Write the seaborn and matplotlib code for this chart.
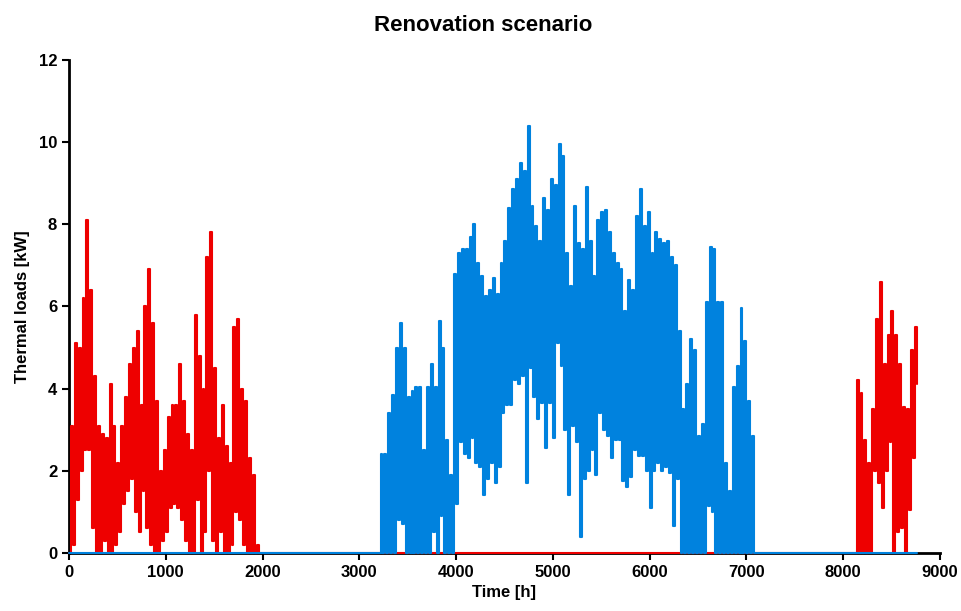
import numpy as np
import pandas as pd
import matplotlib.pyplot as plt
import seaborn as sns

# loads in 40 h blocks: low value at block start, peak at mid-block
step = 40

# heating, start of year (from hour 0)
heat1_start = 0
heat1_peak = [3.1, 5.1, 5.0, 6.2, 8.1, 6.4, 4.3, 3.1, 2.9, 2.8,
              4.1, 3.1, 2.2, 3.1, 3.8, 4.6, 5.0, 5.4, 3.6, 6.0,
              6.9, 5.6, 3.7, 2.0, 2.5, 3.3, 3.6, 3.6, 4.6, 3.7,
              2.9, 2.5, 5.8, 4.8, 4.0, 7.2, 7.8, 4.5, 2.8, 3.6,
              2.6, 2.2, 5.5, 5.7, 4.0, 3.7, 2.3, 1.9, 0.2]
heat1_low = [0.0, 0.2, 1.3, 2.0, 2.5, 2.5, 0.6, 0.0, 0.0, 0.3,
             0.0, 0.0, 0.2, 0.5, 1.2, 1.5, 1.8, 1.0, 0.5, 1.5,
             0.6, 0.2, 0.0, 0.0, 0.3, 0.5, 1.1, 1.2, 1.1, 0.8,
             0.3, 0.0, 0.0, 1.3, 0.0, 0.5, 2.0, 0.3, 0.0, 0.5,
             0.0, 0.0, 0.2, 1.0, 0.8, 0.2, 0.0, 0.0, 0.0]

# cooling, summer (from hour 3200)
cool_start = 3200
cool_peak = [2.4, 2.4, 3.4, 3.85, 5.0, 5.6, 5.0, 3.8, 3.95, 4.05,
             4.05, 2.5, 4.05, 4.6, 4.05, 5.65, 5.0, 2.75, 1.9, 6.8,
             7.3, 7.4, 7.4, 7.7, 8.0, 7.05, 6.75, 6.25, 6.4, 6.7,
             6.3, 7.05, 7.6, 8.4, 8.85, 9.1, 9.5, 9.3, 10.4, 8.45,
             7.95, 7.6, 8.65, 8.35, 9.1, 8.95, 9.95, 9.65, 7.3, 6.5,
             8.45, 7.55, 7.4, 8.9, 7.6, 6.75, 8.1, 8.3, 8.35, 7.8,
             7.3, 7.05, 6.9, 5.9, 6.65, 6.4, 8.2, 8.85, 7.95, 8.3,
             7.3, 7.8, 7.65, 7.55, 7.6, 7.2, 7.0, 5.4, 3.5, 4.1,
             5.2, 4.95, 2.85, 3.15, 6.1, 7.45, 7.4, 6.1, 6.1, 2.2,
             1.5, 4.05, 4.55, 5.95, 5.15, 3.7, 2.85]
cool_low = [0, 0, 0, 0, 0, 0.8, 0.7, 0, 0, 0,
            0, 0, 0, 0, 0.5, 0, 0.9, 0, 0, 0,
            1.2, 2.7, 2.4, 2.3, 2.8, 2.2, 2.1, 1.4, 1.8, 2.2,
            1.7, 2.1, 3.4, 3.6, 3.6, 4.2, 4.1, 4.3, 1.7, 4.5,
            3.8, 3.25, 3.65, 2.55, 3.65, 2.8, 5.1, 4.55, 3.0, 1.4,
            3.1, 2.7, 0.4, 1.8, 2.0, 2.5, 1.9, 3.4, 3.0, 2.85,
            2.3, 2.75, 2.75, 1.75, 1.6, 1.85, 2.5, 2.35, 2.35, 2.0,
            1.1, 2.0, 2.2, 2.0, 2.1, 1.95, 0.65, 1.8, 0, 0,
            0, 0, 0, 0, 0, 1.15, 1.0, 0, 0, 0,
            0, 0, 0, 0, 0, 0, 0]

# heating, end of year (from hour 8120)
heat2_start = 8120
heat2_peak = [4.2, 3.9, 2.75, 2.2, 3.5, 5.7, 6.6, 4.6, 5.3, 5.9,
              5.3, 4.6, 3.55, 3.5, 4.95, 5.5]
heat2_low = [0, 0, 0, 0, 0, 2.0, 1.7, 1.1, 2.0, 2.7,
             0, 0.5, 0.6, 0, 1.05, 2.3]
year_end = 8760
last_heat = 4.1


def zigzag(start, lows, peaks):
    t = start + step * np.arange(len(peaks))
    x = np.column_stack([t, t + step / 2]).ravel()
    y = np.column_stack([lows, peaks]).ravel()
    return x, y


h1x, h1y = zigzag(heat1_start, heat1_low, heat1_peak)
h2x, h2y = zigzag(heat2_start, heat2_low, heat2_peak)
cx, cy = zigzag(cool_start, cool_low, cool_peak)

heat_end1 = heat1_start + step * len(heat1_peak)
cool_end = cool_start + step * len(cool_peak)

heat = pd.DataFrame({
    "hour": np.concatenate([h1x, [heat_end1, heat2_start - 1], h2x, [year_end]]),
    "load": np.concatenate([h1y, [0, 0], h2y, [last_heat]]),
})
cool = pd.DataFrame({
    "hour": np.concatenate([[0], cx, [cool_end, year_end]]),
    "load": np.concatenate([[0], cy, [0, 0]]),
})

sns.set_style("ticks")
plt.rcParams["font.family"] = ["Liberation Sans", "DejaVu Sans"]
plt.rcParams["font.weight"] = "bold"
plt.rcParams["text.color"] = "black"
plt.rcParams["axes.labelcolor"] = "black"

fig = plt.figure(figsize=(9.62, 6.11), dpi=100)
ax = fig.add_axes([0.0717, 0.095, 0.9053, 0.807])

# hourly series look like vertical strokes, so draw as steps; lines sit over the x axis
sns.lineplot(data=heat, x="hour", y="load", ax=ax, color="#EE0000",
             linewidth=1.5, estimator=None, sort=False, drawstyle="steps-post",
             zorder=3, clip_on=False)
sns.lineplot(data=cool, x="hour", y="load", ax=ax, color="#0082DE",
             linewidth=1.5, estimator=None, sort=False, drawstyle="steps-post",
             zorder=3, clip_on=False)

ax.set_xlim(0, 9000)
ax.set_ylim(0, 12)
ax.set_xticks(range(0, 9001, 1000))
ax.set_yticks(range(0, 13, 2))
ax.tick_params(direction="out", length=5, width=1.5, labelsize=12, colors="black")
for lbl in ax.get_xticklabels() + ax.get_yticklabels():
    lbl.set_fontweight("bold")
sns.despine(ax=ax)
for s in ["left", "bottom"]:
    ax.spines[s].set_linewidth(2)
    ax.spines[s].set_color("black")

ax.set_xlabel("Time [h]", fontsize=12, fontweight="bold", labelpad=4)
ax.set_ylabel("Thermal loads [kW]", fontsize=12, fontweight="bold", labelpad=6)
fig.suptitle("Renovation scenario", x=0.502, y=0.975, fontsize=16, fontweight="bold")

fig.savefig("out.png", dpi=100)
